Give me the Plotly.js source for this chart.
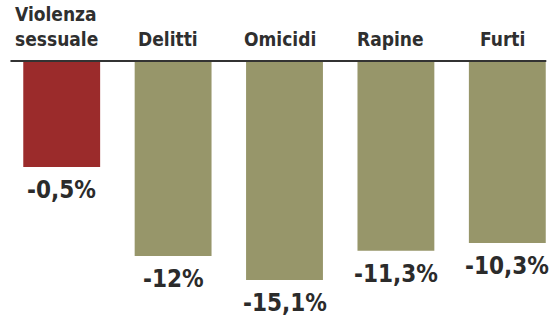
<!DOCTYPE html>
<html>
<head>
<meta charset="utf-8">
<script src="https://cdn.plot.ly/plotly-3.0.1.min.js"></script>
<style>html,body{margin:0;padding:0;background:#fff;}#chart{width:558px;height:317px;}</style>
</head>
<body>
<div id="chart"></div>
<script>
// Data
const categories = ["Violenza<br>sessuale", "Delitti", "Omicidi", "Rapine", "Furti"];
const changes = [-0.5, -12, -15.1, -11.3, -10.3]; // % change
const barColors = ["#9b2b2b", "#97966a", "#97966a", "#97966a", "#97966a"];

// The original graphic draws every bar with a common stub length added.
const STUB = 13.2;

function fmt(v) {
  const s = Number.isInteger(v) ? String(v) : v.toFixed(1).replace('.', ',');
  return s + '%';
}

const plotted = changes.map(v => v - STUB);

const trace = {
  type: 'bar',
  x: categories,
  y: plotted,
  marker: {color: barColors, line: {width: 0}},
  width: 0.69,
  hoverinfo: 'skip'
};

const numFont = {family: 'DejaVu Sans Condensed, DejaVu Sans', size: 24, color: '#2b2b2b', weight: 'bold'};
const catFont = {family: 'DejaVu Sans Condensed, DejaVu Sans', size: 19, color: '#2f2f2f', weight: 'bold'};

const annotations = [];
categories.forEach((c, i) => {
  annotations.push({
    x: c, y: plotted[i], xref: 'x', yref: 'y',
    text: fmt(changes[i]), showarrow: false,
    xanchor: 'center', yanchor: 'top', yshift: -7,
    font: numFont
  });
  annotations.push({
    x: c, y: 1, xref: 'x', yref: 'paper',
    text: c, showarrow: false, align: 'left',
    xanchor: 'center', yanchor: 'bottom', yshift: 9, xshift: -5,
    font: catFont
  });
});

const layout = {
  width: 558, height: 317,
  margin: {l: 6, r: 0, t: 61, b: 0},
  paper_bgcolor: '#ffffff', plot_bgcolor: '#ffffff',
  showlegend: false,
  xaxis: {type: 'category', range: [-0.5, 4.455], showgrid: false, zeroline: false, showline: false, showticklabels: false, ticks: ''},
  yaxis: {range: [-33.07, 0], showgrid: false, zeroline: false, showline: false, showticklabels: false, ticks: ''},
  shapes: [{type: 'line', xref: 'x', yref: 'paper', x0: -0.46, x1: 4.35, y0: 1, y1: 1, yshift: 1,
            line: {color: '#333333', width: 2}}],
  annotations: annotations
};

Plotly.newPlot('chart', [trace], layout, {staticPlot: true, displayModeBar: false});
</script>
</body>
</html>
